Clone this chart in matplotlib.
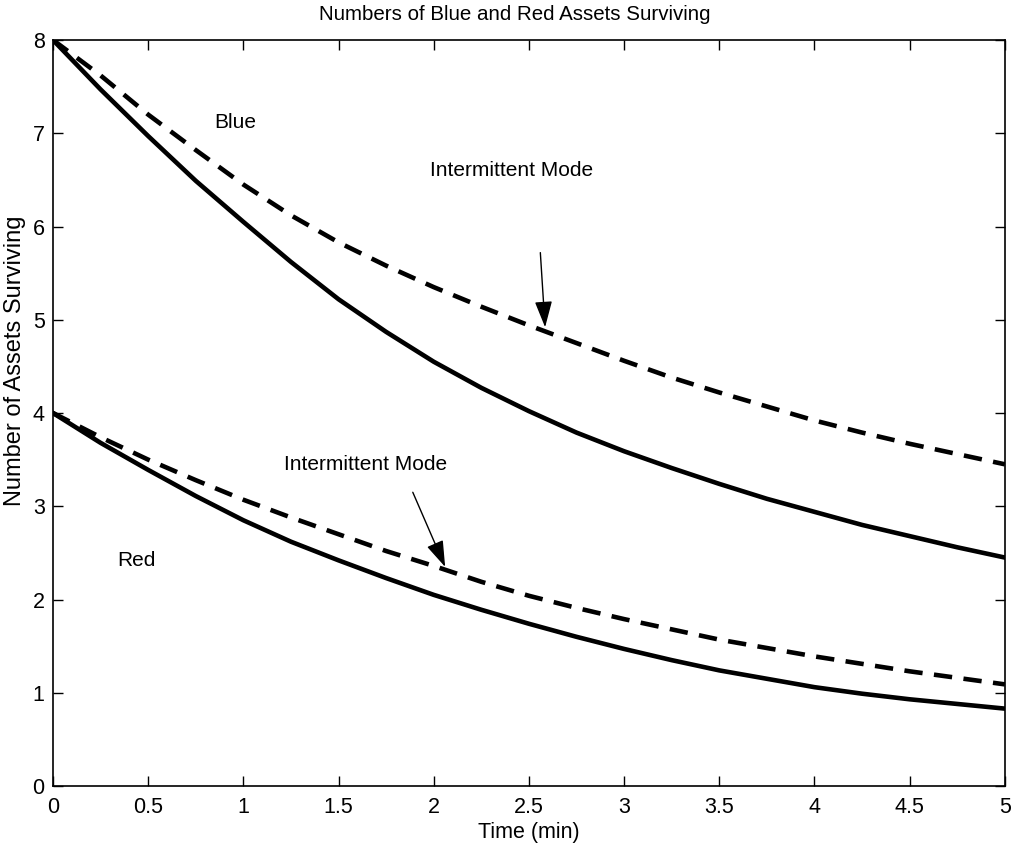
import numpy as np
import matplotlib
matplotlib.use("Agg")
from matplotlib import pyplot as plt

plt.rcParams['font.family'] = ['Liberation Sans', 'DejaVu Sans']

# time axis (min) and values
t = [0, 0.25, 0.5, 0.75, 1, 1.25, 1.5, 1.75, 2, 2.25, 2.5, 2.75,
     3, 3.25, 3.5, 3.75, 4, 4.25, 4.5, 4.75, 5]
blue = [8, 7.47, 6.97, 6.49, 6.05, 5.62, 5.22, 4.87, 4.55, 4.27, 4.02, 3.79,
        3.59, 3.41, 3.24, 3.08, 2.94, 2.80, 2.68, 2.56, 2.45]
blue_int = [8, 7.62, 7.20, 6.82, 6.45, 6.12, 5.83, 5.58, 5.35, 5.14, 4.94, 4.75,
            4.56, 4.38, 4.22, 4.07, 3.92, 3.79, 3.67, 3.56, 3.45]
red = [4, 3.68, 3.39, 3.11, 2.85, 2.62, 2.42, 2.23, 2.05, 1.89, 1.74, 1.60,
       1.47, 1.35, 1.24, 1.15, 1.06, 0.99, 0.93, 0.88, 0.83]
red_int = [4, 3.74, 3.50, 3.28, 3.07, 2.88, 2.70, 2.52, 2.36, 2.19, 2.04, 1.91,
           1.79, 1.68, 1.57, 1.48, 1.39, 1.31, 1.23, 1.16, 1.09]

xticks = np.arange(0, 5.01, 0.5)
xticklabels = ['0', '0.5', '1', '1.5', '2', '2.5', '3', '3.5', '4', '4.5', '5']
yticks = list(range(0, 9))

fig = plt.figure(figsize=(10.15, 8.44), dpi=100)
ax = fig.add_axes([0.0522, 0.0687, 0.9378, 0.8839])

lw = 3.3
ax.plot(t, blue, color='k', lw=lw)
ax.plot(t, red, color='k', lw=lw)
ax.plot(t, blue_int, color='k', lw=lw, dashes=(4.0, 2.5))
ax.plot(t, red_int, color='k', lw=lw, dashes=(4.0, 2.5))

ax.set_xlim(0, 5)
ax.set_ylim(0, 8)
ax.set_xticks(xticks)
ax.set_xticklabels(xticklabels)
ax.set_yticks(yticks)
ax.tick_params(direction='in', top=True, right=True, length=7, width=1, labelsize=15.5)
ax.tick_params(axis='x', pad=8)
ax.tick_params(axis='y', pad=6)
for s in ax.spines.values():
    s.set_linewidth(1.2)

ax.text(0.485, 1.0 + 25 / 745, 'Numbers of Blue and Red Assets Surviving', fontsize=14.8,
        ha='center', va='center', transform=ax.transAxes)
ax.set_xlabel('Time (min)', fontsize=15.5, labelpad=3)
ax.set_ylabel('Number of Assets Surviving', fontsize=17, labelpad=3)
ax.yaxis.set_label_coords(-0.028, 0.57)

ax.text(0.956, 7.11, 'Blue', fontsize=15, ha='center', va='center')
ax.text(0.44, 2.42, 'Red', fontsize=15, ha='center', va='center')

arrow = dict(arrowstyle='-|>,head_length=0.9,head_width=0.3', color='k', lw=1,
             mutation_scale=18, shrinkA=0, shrinkB=0)
ax.text(2.41, 6.6, 'Intermittent Mode', fontsize=15, ha='center', va='center')
ax.annotate('', xy=(2.585, 4.92), xytext=(2.56, 5.72), arrowprops=arrow)
ax.text(1.64, 3.45, 'Intermittent Mode', fontsize=15, ha='center', va='center')
ax.annotate('', xy=(2.06, 2.35), xytext=(1.89, 3.15), arrowprops=arrow)

fig.savefig('out.png', dpi=100)
